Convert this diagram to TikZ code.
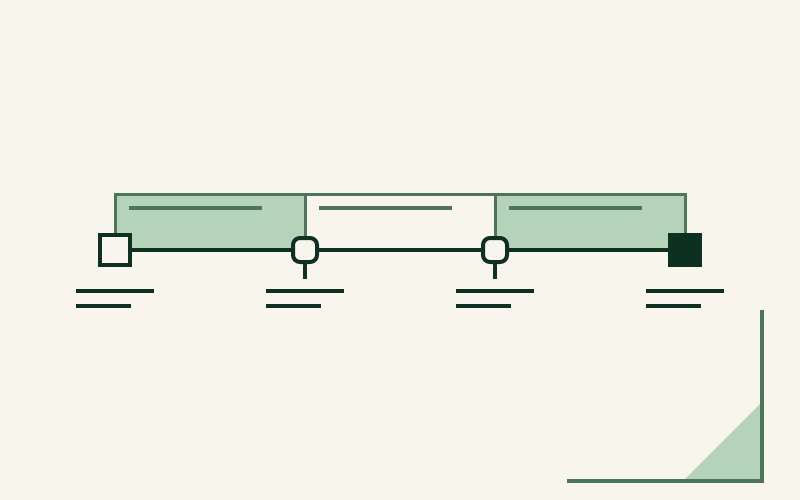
\documentclass[tikz,border=0pt]{standalone}
\begin{document}
\begin{tikzpicture}[x=1pt,y=-1pt,
  bar/.style={line width=3pt,draw=midg},
  base/.style={line width=3.5pt,draw=darkg},
  txt/.style={line width=3.5pt,draw=darkg},
  inner/.style={line width=3.5pt,draw=midg},
  sqnode/.style={draw=darkg,line width=4pt,fill=bgcol,minimum size=30pt,inner sep=0pt},
  rnode/.style={draw=darkg,line width=4pt,fill=bgcol,minimum size=24pt,inner sep=0pt,rounded corners=7pt},
  blknode/.style={draw=darkg,line width=1pt,fill=darkg,minimum size=33pt,inner sep=0pt}]
\definecolor{bgcol}{HTML}{F8F5EC}
\definecolor{lightg}{HTML}{B5D3BB}
\definecolor{midg}{HTML}{4E7558}
\definecolor{darkg}{HTML}{0D3020}
\fill[bgcol] (0,0) rectangle (800,500);
\useasboundingbox (0,0) rectangle (800,500);
% fills
\fill[lightg] (115,194) rectangle (305,250);
\fill[lightg] (495,194) rectangle (685,250);
% outlines
\draw[bar] (115,250) -- (115,194) -- (685,194) -- (685,250);
\draw[bar] (305,194) -- (305,250);
\draw[bar] (495,194) -- (495,250);
% inner lines
\draw[inner] (129,208) -- (262,208);
\draw[inner] (319,208) -- (452,208);
\draw[inner] (509,208) -- (642,208);
% nodes
\node[sqnode] (n1) at (115,250) {};
\node[rnode] (n2) at (305,250) {};
\node[rnode] (n3) at (495,250) {};
\node[blknode] (n4) at (685,250) {};
\coordinate (s2) at (305,279);
\coordinate (s3) at (495,279);
\draw[base] (n1) -- (n2);
\draw[base] (n2) -- (n3);
\draw[base] (n3) -- (n4);
\draw[base] (n2) -- (s2);
\draw[base] (n3) -- (s3);
% text lines
\foreach \x in {115,305,495,685}{
  \draw[txt] (\x-39,291) -- (\x+39,291);
  \draw[txt] (\x-39,306) -- (\x+16,306);
}
% corner
\fill[lightg] (683,481) -- (762,402) -- (762,481) -- cycle;
\draw[line width=3.5pt,draw=midg] (567,481) -- (762,481) -- (762,310);
\end{tikzpicture}
\end{document}
